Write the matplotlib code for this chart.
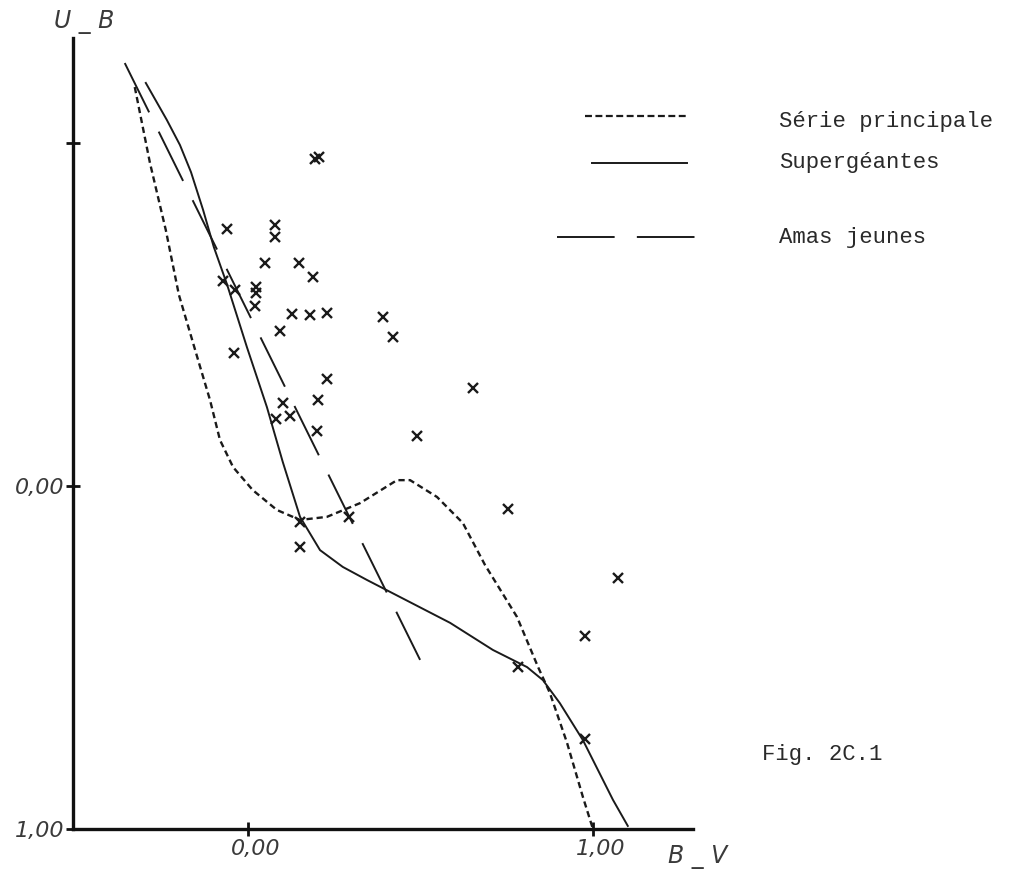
import matplotlib
matplotlib.use("Agg")
import matplotlib.pyplot as plt
from matplotlib.lines import Line2D
from matplotlib.transforms import ScaledTranslation

# ---------------- data ----------------
# Série principale (main sequence)  B-V , U-B
sp_bv = [-0.328, -0.284, -0.238, -0.200, -0.142, -0.110, -0.081, -0.043, 0.014, 0.084,
         0.151, 0.229, 0.325, 0.432, 0.470, 0.548, 0.623, 0.687, 0.780, 0.841,
         0.875, 0.925, 0.971, 1.000]
sp_ub = [-1.163, -0.942, -0.746, -0.557, -0.359, -0.251, -0.134, -0.055, 0.012, 0.070,
         0.099, 0.090, 0.050, -0.017, -0.017, 0.032, 0.108, 0.230, 0.382, 0.528,
         0.603, 0.749, 0.907, 1.000]

# Supergéantes
sg_bv = [-0.296, -0.235, -0.197, -0.165, -0.130, -0.099, -0.061, -0.003, 0.055, 0.101,
         0.151, 0.209, 0.275, 0.345, 0.586, 0.710, 0.809, 0.855, 0.904, 0.971,
         1.058, 1.101]
sg_ub = [-1.175, -1.067, -0.994, -0.915, -0.805, -0.697, -0.589, -0.405, -0.230, -0.070,
         0.090, 0.187, 0.236, 0.274, 0.399, 0.478, 0.528, 0.566, 0.633, 0.741,
         0.915, 0.991]

# Amas jeunes
aj_bv = [-0.357, 0.499]
aj_ub = [-1.233, 0.507]

# observed stars
st_bv = [0.194, 0.206, -0.061, 0.078, 0.078, 0.049, 0.148, 0.188, -0.072, -0.038,
         0.023, 0.023, 0.020, 0.128, 0.180, 0.229, 0.391, 0.420, 0.093, -0.041,
         0.229, 0.203, 0.101, 0.122, 0.081, 0.200, 0.490, 0.652, 0.754, 0.293,
         0.151, 0.151, 1.072, 0.977, 0.783, 0.977]
st_ub = [-0.953, -0.959, -0.749, -0.761, -0.726, -0.650, -0.650, -0.609, -0.598, -0.571,
         -0.580, -0.563, -0.525, -0.501, -0.499, -0.504, -0.493, -0.434, -0.452, -0.388,
         -0.312, -0.251, -0.242, -0.204, -0.195, -0.160, -0.146, -0.286, 0.067, 0.090,
         0.105, 0.178, 0.268, 0.437, 0.528, 0.738]

x_ticks = [0.0, 1.0]
x_ticklabels = ["0,00", "1,00"]
y_ticks = [-1.0, 0.0, 1.0]
y_ticklabels = ["", "0,00", "1,00"]

legend_labels = ["Série principale", "Supergéantes", "Amas jeunes"]

# ---------------- figure ----------------
W, H = 1022, 875
fig = plt.figure(figsize=(W / 100, H / 100), dpi=100)
plt.rcParams['lines.scale_dashes'] = False

def fx(px):
    return px / W

def fy(py):
    return 1 - py / H

ax = fig.add_axes([fx(73), fy(829), fx(693) - fx(73), fy(38) - fy(829)])
ax.set_xlim(-0.507, 1.29)
ax.set_ylim(1.0, -1.306)

ink = "#1a1a1a"
ax.plot(sp_bv, sp_ub, color=ink, lw=1.7, dashes=(4.5, 2.8), solid_joinstyle='round')
ax.plot(sg_bv, sg_ub, color=ink, lw=1.4, solid_joinstyle='round')
ax.plot(aj_bv, aj_ub, color=ink, lw=1.4, dashes=(39.6, 15.5))
ax.plot(st_bv, st_ub, linestyle='none', marker='x', ms=6.5, mew=1.7, color=ink)

for s in ['top', 'right']:
    ax.spines[s].set_visible(False)
for s in ['left', 'bottom']:
    ax.spines[s].set_linewidth(2.4)
    ax.spines[s].set_color('#111111')

tickfont = dict(family='DejaVu Sans', style='italic', size=16, color='#3a3a3a')
ax.set_xticks(x_ticks)
ax.set_xticklabels(x_ticklabels, **tickfont)
ax.set_yticks(y_ticks)
ax.set_yticklabels(y_ticklabels, **tickfont)
ax.tick_params(direction='inout', length=10, width=2.0, color='#111111')
ax.tick_params(axis='x', pad=2)
ax.tick_params(axis='y', pad=1)
for lbl in ax.get_xticklabels():
    lbl.set_transform(lbl.get_transform() + ScaledTranslation(0.08, 0, fig.dpi_scale_trans))

labfont = dict(family='DejaVu Sans', style='italic', size=17, color='#3a3a3a')
fig.text(fx(84), fy(22), "U _ B", ha='center', va='center', **labfont)
fig.text(fx(698), fy(857), "B _ V", ha='center', va='center', **labfont)

# legend (drawn by hand, as in the original figure)
legfont = dict(family='Liberation Mono', size=16, color='#2a2a2a')
fig.add_artist(Line2D([fx(585), fx(687)], [fy(116), fy(116)], color=ink, lw=1.6,
                      dashes=(5, 2.5)))
fig.add_artist(Line2D([fx(592), fx(687)], [fy(163), fy(163)], color=ink, lw=1.4))
fig.add_artist(Line2D([fx(557), fx(703)], [fy(237), fy(237)], color=ink, lw=1.4,
                      dashes=(41.5, 16)))
fig.text(fx(779), fy(127), legend_labels[0], ha='left', va='baseline', **legfont)
fig.text(fx(779), fy(168), legend_labels[1], ha='left', va='baseline', **legfont)
fig.text(fx(779), fy(243), legend_labels[2], ha='left', va='baseline', **legfont)
fig.text(fx(762), fy(760), "Fig. 2C.1", ha='left', va='baseline', **legfont)

fig.savefig("out.png", dpi=100)
